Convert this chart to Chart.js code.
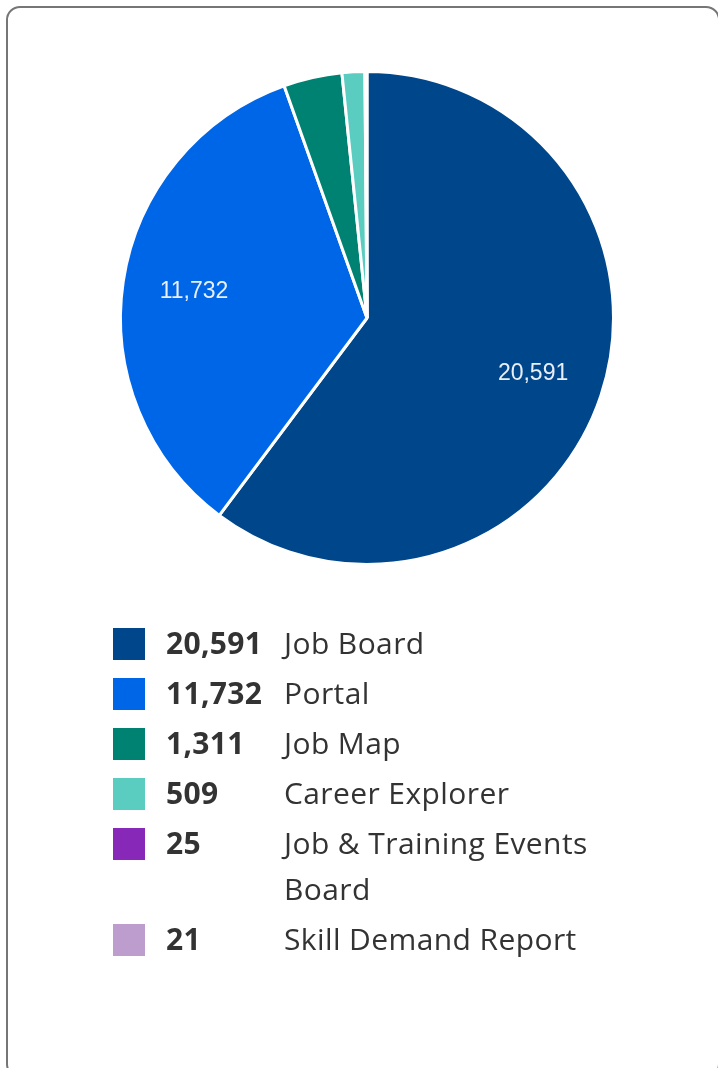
<!DOCTYPE html>
<html>
<head>
<meta charset="utf-8">
<script src="https://cdn.jsdelivr.net/npm/chart.js@4"></script>
<style>
  html, body { margin: 0; padding: 0; background: #fff; overflow: hidden; }
  body { width: 718px; height: 1068px; position: relative; }
  .card {
    position: absolute; left: 6px; top: 6px; width: 714px; height: 1072px;
    border: 2px solid #767676; border-radius: 14px; box-sizing: border-box;
  }
  .chart-box { position: absolute; left: 0; top: 0; width: 718px; height: 636px; }
  .legend { position: absolute; left: 113px; top: 628px; width: 540px; font-family: "Open Sans", sans-serif; color: #333; }
  .row { display: flex; align-items: flex-start; margin-bottom: 12px; }
  .sw { width: 32px; height: 32px; flex: none; }
  .num { width: 118px; margin-left: 21px; flex: none; font-weight: bold; font-size: 30px; letter-spacing: 0.3px; line-height: 46px; margin-top: -8px; }
  .lbl { width: 330px; font-size: 30px; letter-spacing: 0.4px; line-height: 46px; margin-top: -8px; }
</style>
</head>
<body>
<div class="card"></div>
<div class="chart-box"><canvas id="pie"></canvas></div>
<div class="legend" id="legend"></div>
<script>
const labels = ['Job Board', 'Portal', 'Job Map', 'Career Explorer', 'Job & Training Events Board', 'Skill Demand Report'];
const values = [20591, 11732, 1311, 509, 25, 21];
const colors = ['#00468b', '#0066e8', '#008272', '#5acdc0', '#8828b8', '#bc9dcd'];

// slice labels drawn inside the big slices, like the original
const sliceText = {
  id: 'sliceText',
  afterDatasetsDraw(chart) {
    const ctx = chart.ctx;
    const meta = chart.getDatasetMeta(0);
    const total = values.reduce((a, b) => a + b, 0);
    ctx.save();
    ctx.font = '23px "Liberation Sans", Arial, sans-serif';
    ctx.fillStyle = '#e9eff7';
    ctx.textAlign = 'center';
    ctx.textBaseline = 'middle';
    meta.data.forEach((arc, i) => {
      if (values[i] / total < 0.05) return;
      const mid = (arc.startAngle + arc.endAngle) / 2;
      const r = arc.outerRadius * 0.71;
      ctx.fillText(values[i].toLocaleString('en-US'), arc.x + Math.cos(mid) * r, arc.y + Math.sin(mid) * r);
    });
    ctx.restore();
  }
};

new Chart(document.getElementById('pie').getContext('2d'), {
  type: 'pie',
  data: {
    labels: labels,
    datasets: [{
      data: values,
      backgroundColor: colors,
      borderColor: '#ffffff',
      borderWidth: 3
    }]
  },
  options: {
    responsive: true,
    maintainAspectRatio: false,
    animation: false,
    layout: { padding: { left: 16, right: 0, top: 70, bottom: 70 } },
    plugins: {
      legend: { display: false },
      tooltip: { enabled: false }
    }
  },
  plugins: [sliceText]
});

// html legend
const legend = document.getElementById('legend');
labels.forEach((name, i) => {
  const row = document.createElement('div');
  row.className = 'row';
  row.innerHTML = '<div class="sw" style="background:' + colors[i] + '"></div>' +
    '<div class="num">' + values[i].toLocaleString('en-US') + '</div>' +
    '<div class="lbl"></div>';
  row.querySelector('.lbl').textContent = name;
  legend.appendChild(row);
});
</script>
</body>
</html>
